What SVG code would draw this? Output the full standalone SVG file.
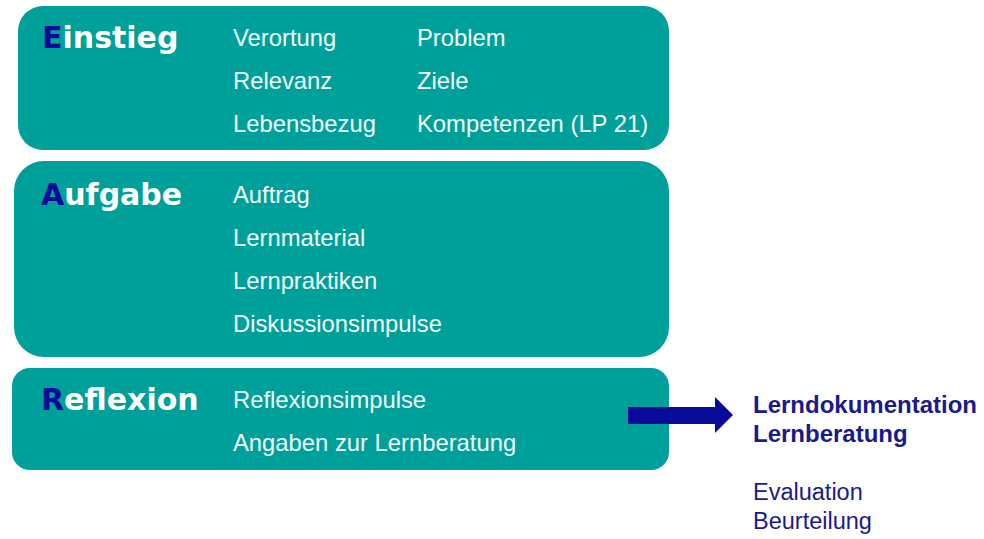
<svg xmlns="http://www.w3.org/2000/svg" width="984" height="539" viewBox="0 0 984 539">
<style>
.box{fill:#00A09A}
.title{font-family:"DejaVu Sans","Liberation Sans",Arial,sans-serif;font-weight:bold;font-size:30px;fill:#ffffff}
.ini{fill:#0A0A99}
.item{font-family:"Liberation Sans",Arial,sans-serif;font-size:23.8px;fill:#F2FFFF}
.side{font-family:"Liberation Sans",Arial,sans-serif;font-size:23.5px;fill:#1A1A8C}
.sideb{font-weight:bold;font-size:24px}
</style>
<rect width="984" height="539" fill="#ffffff"/>
<g id="einstieg">
<rect class="box" x="18" y="6" width="651" height="144" rx="25"/>
<text class="title" x="42" y="48"><tspan class="ini">E</tspan>instieg</text>
<text class="item" x="233" y="46">Verortung</text>
<text class="item" x="233" y="89">Relevanz</text>
<text class="item" x="233" y="132">Lebensbezug</text>
<text class="item" x="417" y="46">Problem</text>
<text class="item" x="417" y="89">Ziele</text>
<text class="item" x="417" y="132">Kompetenzen (LP 21)</text>
</g>
<g id="aufgabe">
<rect class="box" x="14" y="161" width="655" height="196" rx="30"/>
<text class="title" x="41" y="205"><tspan class="ini">A</tspan>ufgabe</text>
<text class="item" x="233" y="203">Auftrag</text>
<text class="item" x="233" y="246">Lernmaterial</text>
<text class="item" x="233" y="289">Lernpraktiken</text>
<text class="item" x="233" y="332">Diskussionsimpulse</text>
</g>
<g id="reflexion">
<rect class="box" x="12" y="368" width="657" height="102" rx="18"/>
<text class="title" x="41" y="410"><tspan class="ini">R</tspan>eflexion</text>
<text class="item" x="233" y="408">Reflexionsimpulse</text>
<text class="item" x="233" y="451">Angaben zur Lernberatung</text>
</g>
<g id="connectors">
<polygon points="628,407 715,407 715,397 733,415 715,433 715,424 628,424" fill="#0A0A99"/>
</g>
<g id="ergebnis">
<text class="side sideb" x="753" y="413">Lerndokumentation</text>
<text class="side sideb" x="753" y="442">Lernberatung</text>
<text class="side" x="753" y="500">Evaluation</text>
<text class="side" x="753" y="529">Beurteilung</text>
</g>
</svg>
